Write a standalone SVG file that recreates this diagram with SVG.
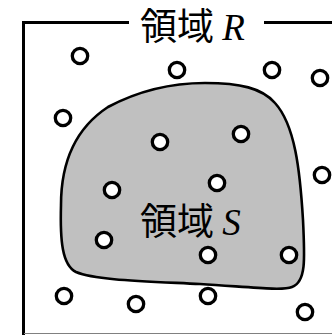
<svg xmlns="http://www.w3.org/2000/svg" width="332" height="335" viewBox="0 0 332 335">
<style>
.frame{fill:none;stroke:#000;stroke-width:3}
.dot{fill:#fff;stroke:#000;stroke-width:3.3}
.lbl{font-family:"Noto Sans CJK JP","Noto Sans CJK SC",sans-serif;font-size:37px;fill:#000}
.var{font-family:"Liberation Serif",serif;font-style:italic;font-size:37px}
</style>
<rect width="332" height="335" fill="#fff"/>
<g id="regionR">
<path class="frame" d="M23.5 335 V22.5 H129 M264 22.5 H332"/>
<line x1="24" y1="333.5" x2="332" y2="333.5" stroke="#808080" stroke-width="1"/>
<text class="lbl" x="140" y="40">領域 <tspan class="var">R</tspan></text>
</g>
<g id="regionS">
<path d="M61 205 C61 160 76 128 108 107 C140 90 175 83 205 83 C240 83 262 88 275 103 C295 125 300 170 303 220 C305 260 306 282 292 287 C282 291 250 287 200 284 C140 281 95 280 76 272 C62 265 60 240 61 205 Z" fill="#c0c0c0" stroke="#000" stroke-width="2.6"/>
<text class="lbl" x="140" y="235">領域 <tspan class="var">S</tspan></text>
</g>
<g id="points">
<circle class="dot" cx="80" cy="56" r="7.7"/>
<circle class="dot" cx="177" cy="70" r="7.7"/>
<circle class="dot" cx="272" cy="70" r="7.7"/>
<circle class="dot" cx="320" cy="78" r="7.7"/>
<circle class="dot" cx="63" cy="118" r="7.7"/>
<circle class="dot" cx="160" cy="142" r="7.7"/>
<circle class="dot" cx="241" cy="134" r="7.7"/>
<circle class="dot" cx="322" cy="175" r="7.7"/>
<circle class="dot" cx="112" cy="190" r="7.7"/>
<circle class="dot" cx="217" cy="183" r="7.7"/>
<circle class="dot" cx="104" cy="240" r="7.7"/>
<circle class="dot" cx="208" cy="255" r="7.7"/>
<circle class="dot" cx="289" cy="255" r="7.7"/>
<circle class="dot" cx="64" cy="296" r="7.7"/>
<circle class="dot" cx="136" cy="304" r="7.7"/>
<circle class="dot" cx="208" cy="296" r="7.7"/>
<circle class="dot" cx="305" cy="312" r="7.7"/>
</g>
</svg>
